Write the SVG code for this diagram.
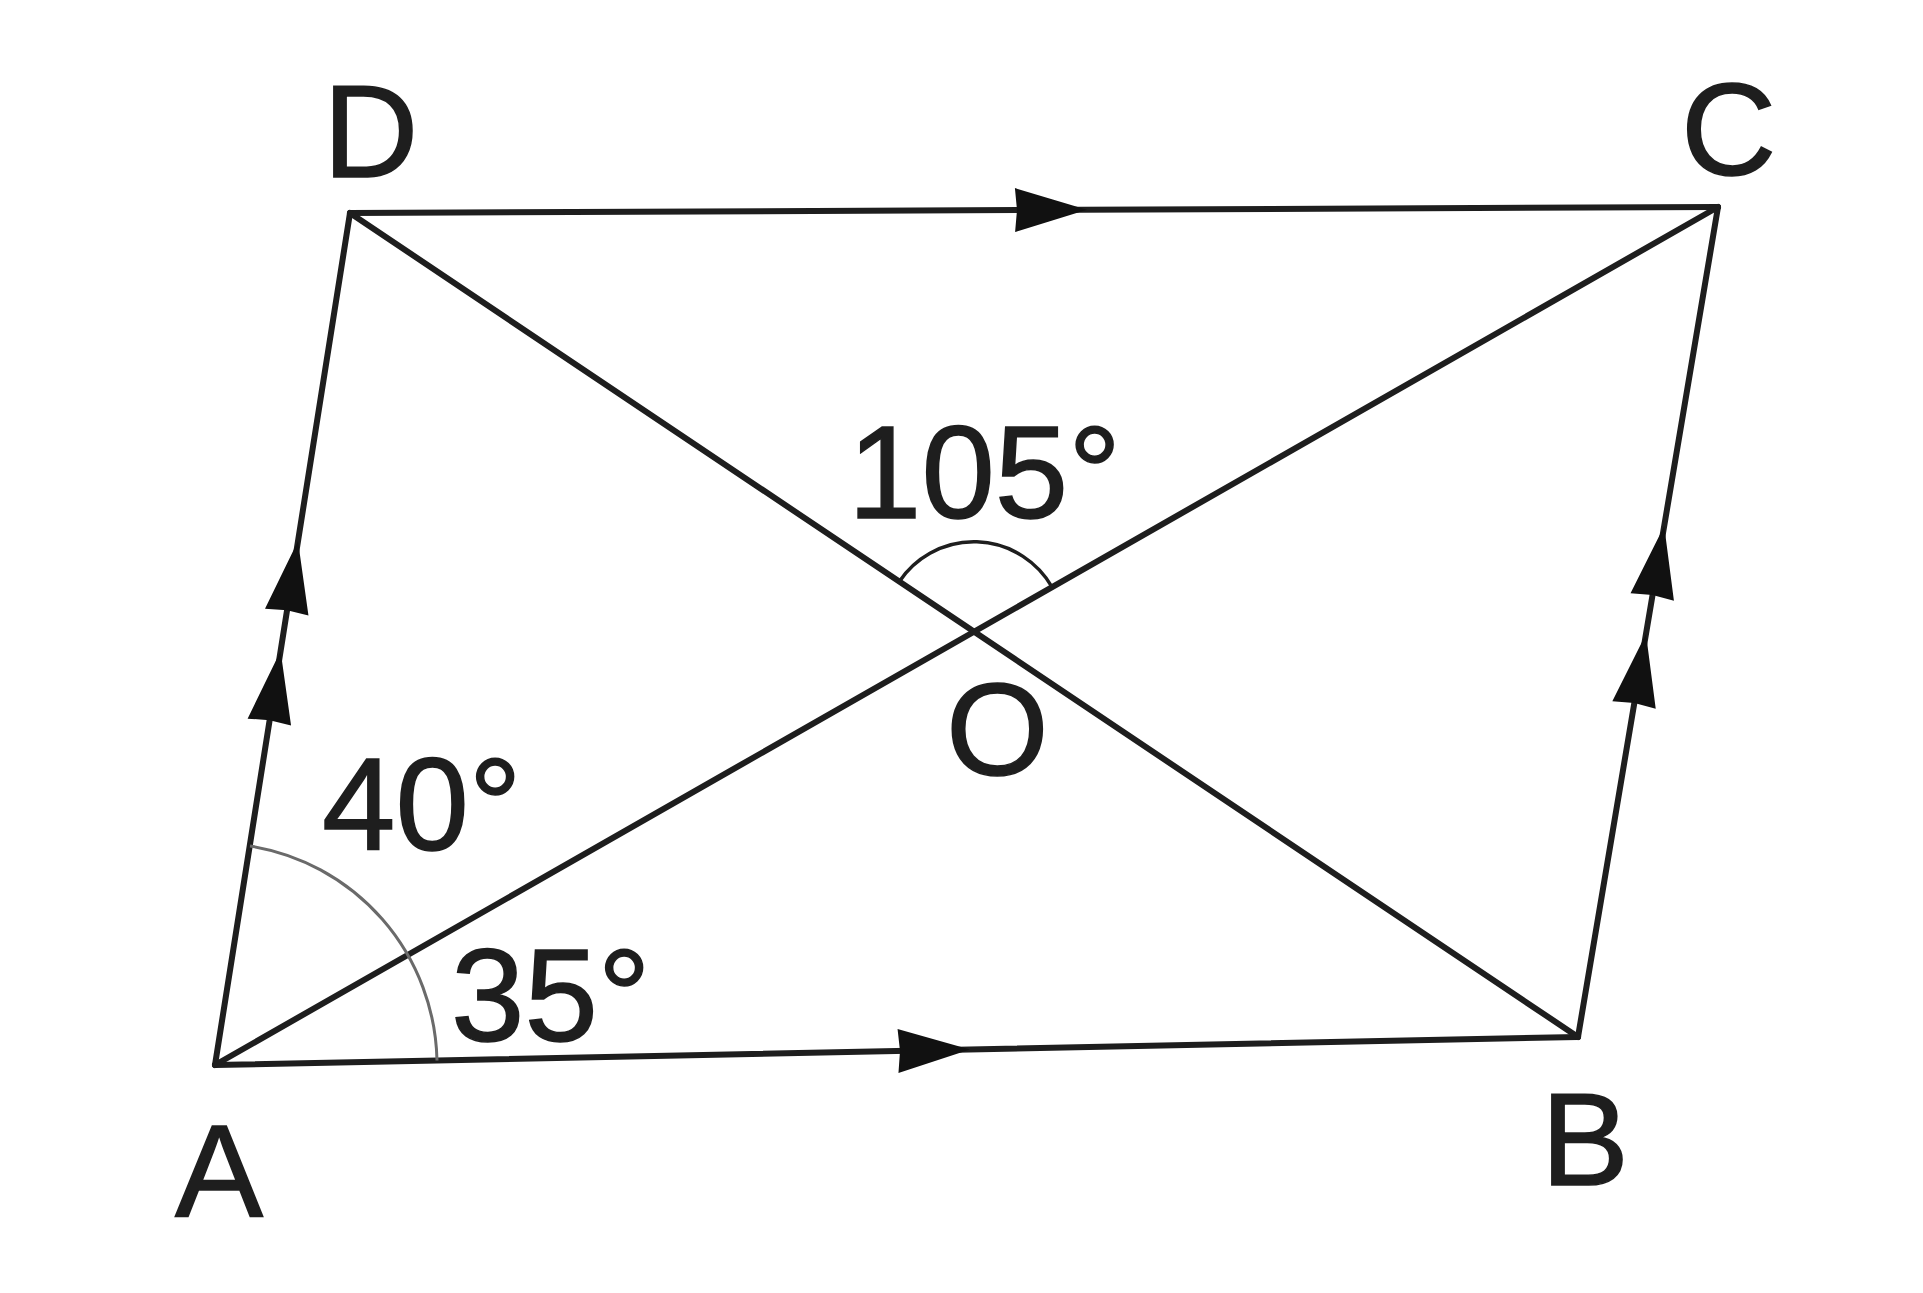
<svg xmlns="http://www.w3.org/2000/svg" xmlns:xlink="http://www.w3.org/1999/xlink" width="1923" height="1293" viewBox="0 0 1923 1293">
<style>
.edge{stroke:#1e1e1e;stroke-width:6;fill:none;stroke-linecap:round;stroke-linejoin:round}
.arc{stroke:#6a6a6a;stroke-width:3;fill:none}
.arc2{stroke:#1e1e1e;stroke-width:3.5;fill:none}
.lbl{font-family:"Liberation Sans",Arial,sans-serif;font-size:132px;fill:#1e1e1e;stroke:#1e1e1e;stroke-width:1.5}
.ah{fill:#111}
</style>
<defs>
<path id="ah" class="ah" d="M0 0 L-72 -22 L-70 0 L-72 22 Z"/>
</defs>
<rect width="1923" height="1293" fill="#ffffff"/>
<g id="connectors">
<line class="edge" x1="215" y1="1065" x2="1578" y2="1037"/>
<line class="edge" x1="1578" y1="1037" x2="1718" y2="207"/>
<line class="edge" x1="350" y1="213" x2="1718" y2="207"/>
<line class="edge" x1="215" y1="1065" x2="350" y2="213"/>
<line class="edge" x1="215" y1="1065" x2="1718" y2="207"/>
<line class="edge" x1="350" y1="213" x2="1578" y2="1037"/>
<use xlink:href="#ah" transform="translate(1087 209.8) rotate(-0.25)"/>
<use xlink:href="#ah" transform="translate(970 1049.5) rotate(-1.18)"/>
<use xlink:href="#ah" transform="translate(298 541) rotate(-81)"/>
<use xlink:href="#ah" transform="translate(280.6 651) rotate(-81)"/>
<use xlink:href="#ah" transform="translate(1664.2 526) rotate(-80.43)"/>
<use xlink:href="#ah" transform="translate(1646 634) rotate(-80.43)"/>
</g>
<g id="angle-A">
<path class="arc" d="M250 846 A222 222 0 0 1 437 1060.5"/>
<text class="lbl" x="322" y="850">40°</text>
<text class="lbl" x="451" y="1041">35°</text>
</g>
<g id="angle-O">
<path class="arc2" d="M899 582 A90 90 0 0 1 1052 587"/>
<text class="lbl" x="848" y="518">105°</text>
</g>
<g id="node-A"><text class="lbl" x="175" y="1217">A</text></g>
<g id="node-B"><text class="lbl" x="1541" y="1185">B</text></g>
<g id="node-C"><text class="lbl" x="1681" y="175">C</text></g>
<g id="node-D"><text class="lbl" x="323" y="177">D</text></g>
<g id="node-O"><text class="lbl" x="946" y="775">O</text></g>
</svg>
